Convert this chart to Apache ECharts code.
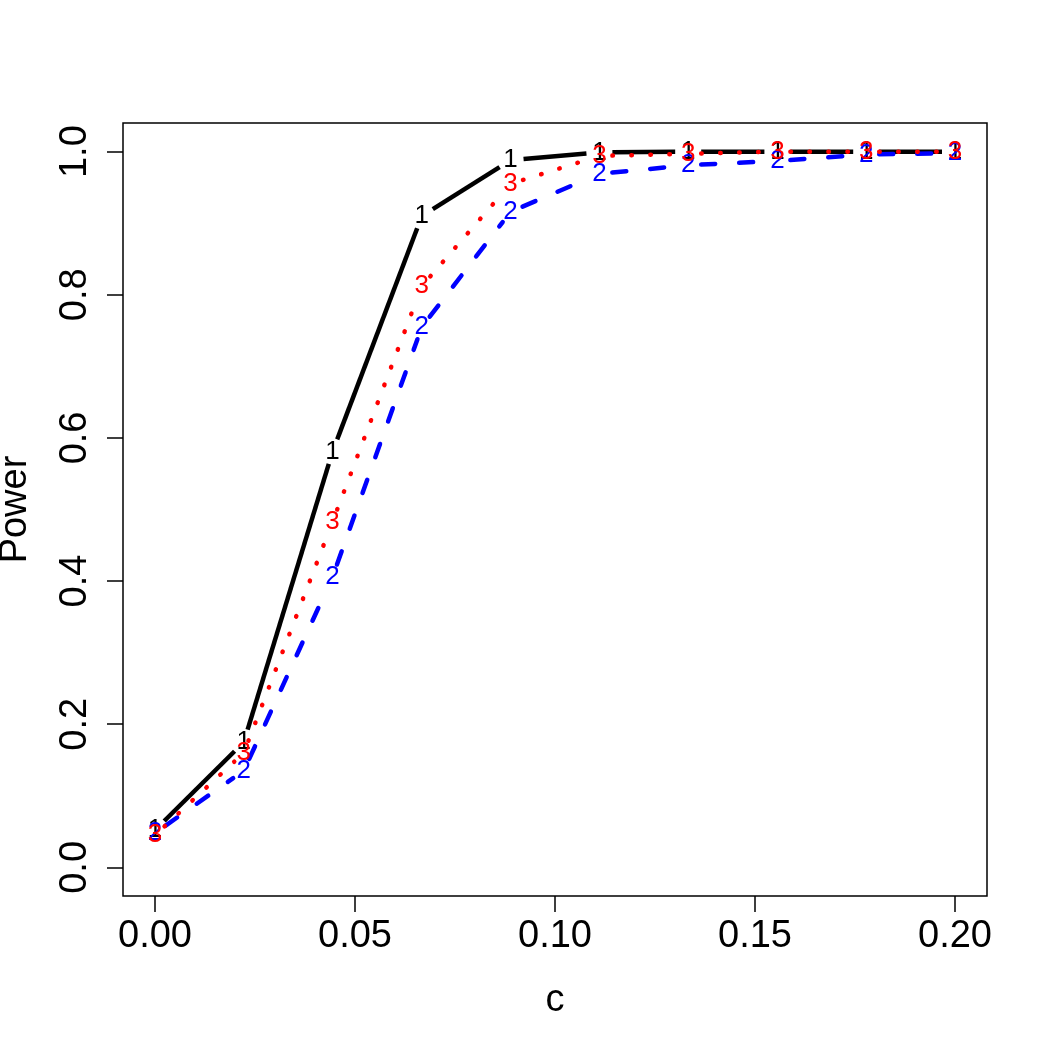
<!DOCTYPE html>
<html>
<head>
<meta charset="utf-8">
<script src="https://cdn.jsdelivr.net/npm/echarts@6/dist/echarts.min.js"></script>
<style>
  html, body { margin: 0; padding: 0; background: #fff; }
  #chart { width: 1050px; height: 1050px; }
</style>
</head>
<body>
<div id="chart"></div>
<script>
// c values (10 points from 0 to 0.2)
var cValues = [0, 0.0222, 0.0444, 0.0667, 0.0889, 0.1111, 0.1333, 0.1556, 0.1778, 0.2];
// power curves
var power1 = [0.052, 0.175, 0.581, 0.910, 0.988, 0.999, 1.000, 1.000, 1.000, 1.000];
var power2 = [0.048, 0.135, 0.406, 0.755, 0.916, 0.969, 0.981, 0.987, 0.996, 0.998];
var power3 = [0.045, 0.160, 0.483, 0.812, 0.955, 0.994, 0.997, 1.000, 1.000, 1.000];
var seriesMarks = ['1', '2', '3'];
var xTicks = [0, 0.05, 0.10, 0.15, 0.20];
var yTicks = [0, 0.2, 0.4, 0.6, 0.8, 1.0];

var styles = [
  { color: '#000000', width: 4.5, dash: null, cap: 'butt' },
  { color: '#0000ff', width: 4.5, dash: [14, 24], cap: 'round' },
  { color: '#ff0000', width: 4.5, dash: [0.5, 18.5], cap: 'round' }
];

var GAP = 13; // R type "b" leaves a gap round each mark
var font = '"Liberation Sans", Arial, sans-serif';

function segments(ys) {
  var out = [];
  for (var i = 0; i < cValues.length - 1; i++) {
    out.push([cValues[i], ys[i], cValues[i + 1], ys[i + 1]]);
  }
  return out;
}
function points(ys) {
  var out = [];
  for (var i = 0; i < cValues.length; i++) out.push([cValues[i], ys[i]]);
  return out;
}

function lineSeries(ys, st) {
  return {
    type: 'custom',
    coordinateSystem: 'cartesian2d',
    encode: { x: [0, 2], y: [1, 3] },
    silent: true,
    data: segments(ys),
    renderItem: function (params, api) {
      var p1 = api.coord([api.value(0), api.value(1)]);
      var p2 = api.coord([api.value(2), api.value(3)]);
      var dx = p2[0] - p1[0], dy = p2[1] - p1[1];
      var len = Math.sqrt(dx * dx + dy * dy);
      if (len <= 2 * GAP) return null;
      var ux = dx / len, uy = dy / len;
      return {
        type: 'line',
        shape: {
          x1: p1[0] + ux * GAP, y1: p1[1] + uy * GAP,
          x2: p2[0] - ux * GAP, y2: p2[1] - uy * GAP
        },
        style: {
          stroke: st.color,
          lineWidth: st.width,
          lineDash: st.dash,
          lineCap: st.cap,
          fill: null
        }
      };
    }
  };
}

function markSeries(ys, mark, st) {
  return {
    type: 'custom',
    coordinateSystem: 'cartesian2d',
    encode: { x: 0, y: 1 },
    silent: true,
    data: points(ys),
    renderItem: function (params, api) {
      var p = api.coord([api.value(0), api.value(1)]);
      return {
        type: 'text',
        x: p[0],
        y: p[1],
        style: {
          text: mark,
          fill: st.color,
          fontSize: 26,
          fontFamily: font,
          align: 'center',
          verticalAlign: 'middle'
        }
      };
    }
  };
}

var allData = [power1, power2, power3];
var series = [];
for (var k = 0; k < allData.length; k++) {
  series.push(lineSeries(allData[k], styles[k]));
  series.push(markSeries(allData[k], seriesMarks[k], styles[k]));
}

var option = {
  animation: false,
  backgroundColor: '#ffffff',
  grid: {
    left: 123, top: 123, width: 864, height: 773,
    outerBoundsMode: 'none',
    containLabel: false,
    show: true, borderColor: '#000', borderWidth: 1.5, backgroundColor: 'transparent'
  },
  xAxis: {
    type: 'value',
    min: -0.008, max: 0.208,
    name: 'c',
    nameLocation: 'middle',
    nameGap: 86,
    nameTextStyle: { fontSize: 38, color: '#000', fontFamily: font },
    axisLine: { show: false, onZero: false },
    splitLine: { show: false },
    axisTick: { show: true, inside: false, length: 16, customValues: xTicks, lineStyle: { color: '#000', width: 1.5 } },
    axisLabel: {
      customValues: xTicks, margin: 22, fontSize: 38, color: '#000', fontFamily: font,
      formatter: function (v) { return v.toFixed(2); }
    }
  },
  yAxis: {
    type: 'value',
    min: -0.04, max: 1.04,
    name: 'Power',
    nameLocation: 'middle',
    nameGap: 88,
    nameTextStyle: { fontSize: 38, color: '#000', fontFamily: font },
    axisLine: { show: false, onZero: false },
    splitLine: { show: false },
    axisTick: { show: true, inside: false, length: 16, customValues: yTicks, lineStyle: { color: '#000', width: 1.5 } },
    axisLabel: {
      customValues: yTicks, rotate: 90, margin: 28, fontSize: 38, color: '#000', fontFamily: font,
      formatter: function (v) { return v.toFixed(1); }
    }
  },
  series: series
};

var chart = echarts.init(document.getElementById('chart'), null, { renderer: 'canvas' });
chart.setOption(option);
</script>
</body>
</html>
